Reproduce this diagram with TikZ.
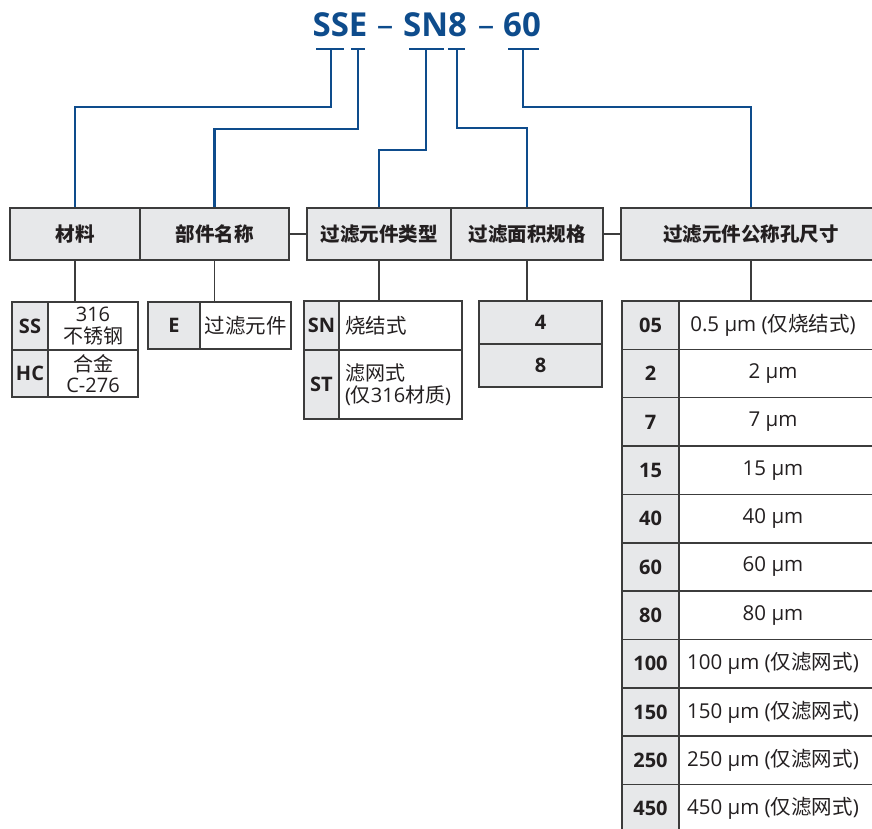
\documentclass[tikz,border=0pt]{standalone}
\usepackage{fontspec}
\setmainfont{Open Sans}
\newfontfamily\cjk{Noto Sans CJK SC}
\definecolor{tblue}{HTML}{0E4C8C}
\definecolor{tgray}{HTML}{E7E8EA}
\definecolor{tline}{HTML}{3C3C3C}
\definecolor{ttext}{HTML}{231F20}
\begin{document}
\begin{tikzpicture}[x=1pt,y=-1pt,
  bl/.style={draw=tblue, line width=2.2pt},
  gl/.style={draw=tline, line width=1.5pt},
  hdr/.style={draw=tline, line width=1.5pt, fill=tgray, minimum height=52pt, inner sep=0pt, text=ttext, font=\cjk\bfseries\fontsize{19.5}{20}\selectfont},
  cg/.style={draw=tline, line width=1.5pt, fill=tgray, inner sep=0pt, text=ttext, font=\bfseries\fontsize{20}{20}\selectfont},
  cw/.style={draw=tline, line width=1.5pt, fill=white, inner sep=0pt, text=ttext, font=\fontsize{20}{21.5}\selectfont},
  ttl/.style={text=tblue, inner sep=0pt, anchor=base, font=\bfseries\fontsize{33}{34}\selectfont},
  ttldash/.style={text=tblue, inner sep=0pt, anchor=base, font=\fontsize{33}{34}\selectfont},
  txt/.style={inner sep=0pt, text=ttext, font=\fontsize{20.5}{20}\selectfont}]
\useasboundingbox (0,0) rectangle (872,829);
\clip (0,0) rectangle (872,829);

% title
\node[ttl] (s1) at (340,37) {SSE};
\node[ttldash] (d1) at (385,37) {–};
\node[ttl] (s2) at (435,37) {SN8};
\node[ttldash] (d2) at (486,37) {–};
\node[ttl] (s3) at (522,37) {60};

\draw[bl] (316,49) -- (344,49);
\draw[bl] (351,49) -- (365,49);
\draw[bl] (409,49) -- (444,49);
\draw[bl] (448,49) -- (465,49);
\draw[bl] (508,49) -- (539,49);
\coordinate (u1) at (331,49);
\coordinate (u2) at (358,49);
\coordinate (u3) at (426,49);
\coordinate (u4) at (457,49);
\coordinate (u5) at (523,49);

% headers
\node[hdr, minimum width=130pt] (h1) at (75,234) {材料};
\node[hdr, minimum width=149pt] (h2) at (214.5,234) {部件名称};
\node[hdr, minimum width=144pt] (h3) at (379,234) {过滤元件类型};
\node[hdr, minimum width=152pt] (h4) at (527,234) {过滤面积规格};
\node[hdr, minimum width=260pt] (h5) at (751,234) {过滤元件公称孔尺寸};

\draw[gl] (h2.east) -- (h3.west);
\draw[gl] (h4.east) -- (h5.west);

% blue connectors
\draw[bl] (u1) -- ++(0,58) -| (h1.north);
\draw[bl] (u2) -- ++(0,80) -| (h2.north);
\draw[bl] (u3) -- ++(0,101) -| (h3.north);
\draw[bl] (u4) -- ++(0,79) -| (h4.north);
\draw[bl] (u5) -- ++(0,58) -| (h5.north);

% table 1
\node[cg, minimum width=36pt, minimum height=48pt] (t1a) at (30,326) {SS};
\node[cw, minimum width=90pt, minimum height=48pt, align=center] (t1b) at (93,326) {316\\{\cjk 不锈钢}};
\node[cg, minimum width=36pt, minimum height=47pt] (t1c) at (30,373.5) {HC};
\node[cw, minimum width=90pt, minimum height=47pt, align=center] (t1d) at (93,373.5) {{\cjk 合金}\\C-276};

% table 2
\node[cg, minimum width=52pt, minimum height=47pt] (t2a) at (174,325.5) {E};
\node[cw, minimum width=91pt, minimum height=47pt, font=\cjk\fontsize{20.5}{21}\selectfont] (t2b) at (245.5,325.5) {过滤元件};

% table 3
\node[cg, minimum width=35pt, minimum height=49pt] (t3a) at (321.5,325.5) {SN};
\node[cw, text width=111pt, inner xsep=6pt, minimum height=49pt, align=left, font=\cjk\fontsize{20.5}{21}\selectfont] (t3b) at (400.5,325.5) {烧结式};
\node[cg, minimum width=35pt, minimum height=69pt] (t3c) at (321.5,384.5) {ST};
\node[cw, text width=111pt, inner xsep=6pt, minimum height=69pt, align=left] (t3d) at (400.5,384.5) {{\cjk 滤网式}\\({\cjk 仅}316{\cjk 材质})};

% table 4
\node[cg, minimum width=123pt, minimum height=43pt] (t4a) at (540.5,322.5) {4};
\node[cg, minimum width=123pt, minimum height=43pt] (t4b) at (540.5,365.5) {8};

% gray connectors
\draw[gl] (h1.south) -- (h1.south |- t1b.north);
\draw[gl] (h2.south) -- (h2.south |- t2b.north);
\draw[gl] (h3.south) -- (h3.south |- t3b.north);
\draw[gl] (h4.south) -- (h4.south |- t4a.north);

% table 5
\foreach \c/\v [count=\i from 0] in {
  05/{0.5 μm ({\cjk 仅烧结式})},
  2/{2 μm},
  7/{7 μm},
  15/{15 μm},
  40/{40 μm},
  60/{60 μm},
  80/{80 μm},
  100/{100 μm ({\cjk 仅滤网式})},
  150/{150 μm ({\cjk 仅滤网式})},
  250/{250 μm ({\cjk 仅滤网式})},
  450/{450 μm ({\cjk 仅滤网式})}}{
  \pgfmathsetmacro\yy{301+48.36*(\i+0.5)}
  \node[cg, minimum width=57pt, minimum height=48.36pt] (c\i) at (650.5,\yy) {\c};
  \node[cw, minimum width=202pt, minimum height=48.36pt] (v\i) at (780,\yy) {};
  \node[txt] (w\i) at (773,\yy) {\v};
}
\draw[gl] (h5.south) -- (h5.south |- v0.north);
\end{tikzpicture}
\end{document}
